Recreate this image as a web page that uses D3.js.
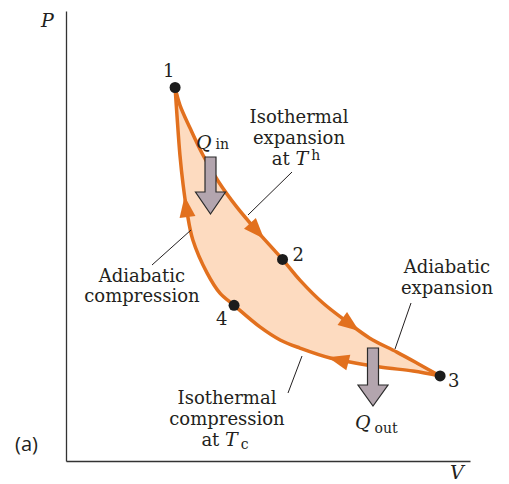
<!DOCTYPE html>
<html>
<head>
<meta charset="utf-8">
<script src="https://cdn.jsdelivr.net/npm/d3@7"></script>
<style>
  body { margin: 0; background: #fff; }
  text { font-family: "DejaVu Serif", serif; fill: #231f20; }
  .label { font-size: 18px; }
  .sym { font-style: italic; font-size: 19px; }
  .sub { font-size: 14px; font-style: normal; }
  .leader { stroke: #231f20; stroke-width: 1; }
</style>
</head>
<body>
<div id="cycle"></div>
<script>
var width = 509
var height = 484

// Carnot cycle, [V, P] in arbitrary units (0..10)
const isoExpansion = [[2.70, 8.30], [2.82, 7.91], [3.07, 7.40], [3.39, 6.80], [3.78, 6.20], [4.23, 5.64], [4.68, 5.16], [5.36, 4.48]];
const adiaExpansion = [[5.36, 4.48], [5.79, 4.02], [6.36, 3.51], [6.96, 3.09], [7.52, 2.73], [8.19, 2.42], [8.76, 2.14], [9.26, 1.89]];
const isoCompression = [[9.26, 1.89], [8.59, 2.00], [7.77, 2.09], [6.54, 2.29], [5.79, 2.51], [5.30, 2.69], [4.80, 2.98], [4.16, 3.46]];
const adiaCompression = [[4.16, 3.46], [3.81, 3.73], [3.49, 4.18], [3.14, 4.91], [3.00, 5.51], [2.90, 6.13], [2.82, 6.80], [2.75, 7.64], [2.70, 8.30]];
const stateNames = ["1", "2", "3", "4"];
const stateV = [2.70, 5.36, 9.26, 4.16];
const stateP = [8.30, 4.48, 1.89, 3.46];

const svg = d3.select("#cycle").append("svg")
    .attr("width", width)
    .attr("height", height);

const xScale = d3.scaleLinear().domain([0, 10]).range([66, 470]);
const yScale = d3.scaleLinear().domain([0, 10]).range([461, 11]);

const xValue = d => xScale(d[0]);
const yValue = d => yScale(d[1]);

// bare axes, no ticks
const xAxisG = svg.append("g")
    .attr("transform", `translate(0, ${yScale(0)})`)
    .call(d3.axisBottom(xScale).ticks(0).tickSizeOuter(0));
const yAxisG = svg.append("g")
    .attr("transform", `translate(${xScale(0)}, 0)`)
    .call(d3.axisLeft(yScale).ticks(0).tickSizeOuter(0));
svg.selectAll(".domain").attr("stroke", "#333").attr("stroke-width", 1.3);

const line = d3.line().x(xValue).y(yValue).curve(d3.curveCatmullRom);

const upper = isoExpansion.concat(adiaExpansion.slice(1));
const lower = isoCompression.concat(adiaCompression.slice(1));

svg.append("path")
    .attr("d", line(upper) + line(lower).replace(/^M/, "L") + "Z")
    .attr("fill", "#fddbc0")
    .attr("stroke", "none");

const upperPath = svg.append("path")
    .attr("d", line(upper))
    .attr("fill", "none")
    .attr("stroke", "#e2701e")
    .attr("stroke-width", 3.5)
    .attr("stroke-linejoin", "round");

const lowerPath = svg.append("path")
    .attr("d", line(lower))
    .attr("fill", "none")
    .attr("stroke", "#e2701e")
    .attr("stroke-width", 3.5)
    .attr("stroke-linejoin", "round");

// arrowheads placed along the drawn curves
const arrowHead = (pathSel, t) => {
    const node = pathSel.node();
    const L = node.getTotalLength();
    const p = node.getPointAtLength(L * t);
    const q = node.getPointAtLength(L * t - 3);
    let dx = p.x - q.x, dy = p.y - q.y;
    const n = Math.hypot(dx, dy);
    dx /= n; dy /= n;
    const len = 21, half = 8;
    const bx = p.x - dx * len, by = p.y - dy * len;
    svg.append("path")
        .attr("d", `M${p.x},${p.y}L${bx - dy * half},${by + dx * half}L${bx + dy * half},${by - dx * half}Z`)
        .attr("fill", "#e2701e");
};
arrowHead(upperPath, 0.44);
arrowHead(upperPath, 0.77);
arrowHead(lowerPath, 0.25);
arrowHead(lowerPath, 0.76);

// heat arrows
const blockArrow = (cx, top, headTop, tip) => {
    const sw = 5.5, hw = 15;
    svg.append("path")
        .attr("d", `M${cx - sw},${top}L${cx + sw},${top}L${cx + sw},${headTop}L${cx + hw},${headTop}L${cx},${tip}L${cx - hw},${headTop}L${cx - sw},${headTop}Z`)
        .attr("fill", "#b3a5ae")
        .attr("stroke", "#2b2b2b")
        .attr("stroke-width", 1.2)
        .attr("stroke-linejoin", "miter");
};
blockArrow(210.5, 157, 192, 214);
blockArrow(373, 348, 385, 406);

// state points
const offsets = [[-12, -11], [10, 2], [8, 11], [-18, 20]];
stateNames.forEach((name, i) => {
    svg.append("circle")
        .attr("cx", xScale(stateV[i]))
        .attr("cy", yScale(stateP[i]))
        .attr("r", 5.5)
        .attr("fill", "#1c1c1c");
    svg.append("text")
        .attr("class", "label")
        .attr("x", xScale(stateV[i]) + offsets[i][0])
        .attr("y", yScale(stateP[i]) + offsets[i][1])
        .text(name);
});

// leader lines
const leaders = [[292, 172, 248, 215], [152, 265, 191, 230], [411, 303, 395, 349], [302, 356, 288, 393]];
leaders.forEach(l => {
    svg.append("line").attr("class", "leader")
        .attr("x1", l[0]).attr("y1", l[1]).attr("x2", l[2]).attr("y2", l[3]);
});

const multiLine = (cx, y0, dy, lines) => {
    lines.forEach((t, i) => {
        svg.append("text")
            .attr("class", "label")
            .attr("text-anchor", "middle")
            .attr("x", cx)
            .attr("y", y0 + i * dy)
            .text(t);
    });
};
multiLine(299, 123, 20.5, ["Isothermal", "expansion"]);
multiLine(142, 282, 20, ["Adiabatic", "compression"]);
multiLine(447, 273, 20.5, ["Adiabatic", "expansion"]);
multiLine(227, 404, 21, ["Isothermal", "compression"]);

// "at T_h" and "at T_c"
const atT = (cx, yb, sub, shift) => {
    const t = svg.append("text").attr("class", "label")
        .attr("text-anchor", "middle")
        .attr("x", cx).attr("y", yb);
    t.append("tspan").text("at ");
    t.append("tspan").attr("class", "sym").text("T");
    t.append("tspan").attr("class", "sub").attr("dx", 3).attr("dy", shift).text(sub);
};
atT(296, 165, "h", -5);
atT(225, 446, "c", 3);

// Q labels
const qLabel = (x0, yb, sub, shift) => {
    const t = svg.append("text").attr("x", x0).attr("y", yb);
    t.append("tspan").attr("class", "sym").text("Q");
    t.append("tspan").attr("class", "sub").attr("dx", 4).attr("dy", shift).text(sub);
};
qLabel(196, 149, "in", 0);
qLabel(355, 429, "out", 4);

// axis names
svg.append("text").attr("class", "sym").attr("x", 41).attr("y", 27).text("P");
svg.append("text").attr("class", "sym").attr("x", 450).attr("y", 479).text("V");
svg.append("text")
    .attr("x", 15).attr("y", 451)
    .style("font-family", "'Open Sans', sans-serif")
    .style("font-size", "20px")
    .text("(a)");
</script>
</body>
</html>
